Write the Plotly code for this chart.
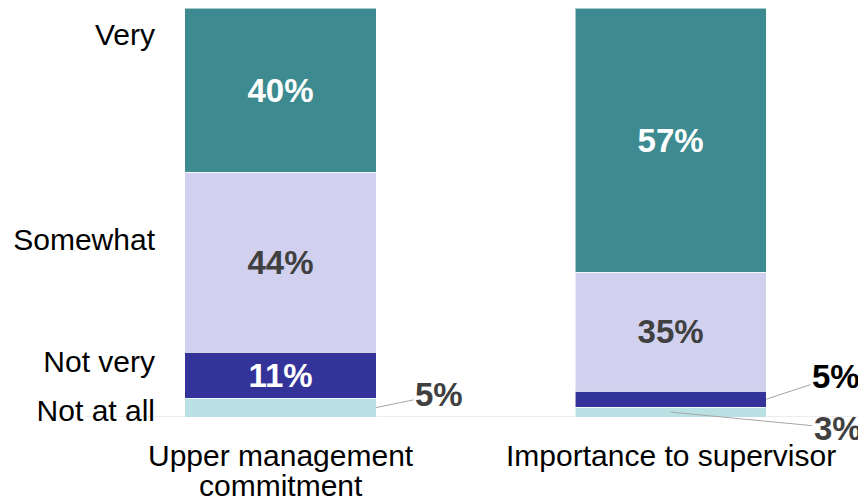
import plotly.graph_objects as go

categories = ["Upper management<br>commitment", "Importance to supervisor"]
levels = ["Not at all", "Not very", "Somewhat", "Very"]
# segment heights as drawn (percent of bar)
upper_values = [4.6, 11.2, 44.0, 40.2]
supervisor_values = [2.4, 3.9, 29.1, 64.6]
# printed labels
upper_labels = ["5%", "11%", "44%", "40%"]
supervisor_labels = ["3%", "5%", "35%", "57%"]
level_tick_positions = [1.5, 13.5, 43.3, 93.4]

colors = ["#B9E1E3", "#333399", "#D1D1EF", "#3D8B90"]
inside_text_colors = ["#404040", "#FFFFFF", "#404040", "#FFFFFF"]
bar_width = 0.49
# which segments get inside labels (others get callouts)
inside = [[False, True, True, True], [False, False, True, True]]

FONT = "Liberation Sans, Arial, sans-serif"

fig = go.Figure()
series = [upper_values, supervisor_values]
labels = [upper_labels, supervisor_labels]
for li, lvl in enumerate(levels):
    vals = [series[c][li] for c in range(len(categories))]
    texts = [labels[c][li] if inside[c][li] else "" for c in range(len(categories))]
    fig.add_trace(go.Bar(
        name=lvl, x=categories, y=vals, width=bar_width,
        marker=dict(color=colors[li], line=dict(color="rgba(255,255,255,0.55)", width=1)),
        text=texts, textposition="inside", insidetextanchor="middle",
        constraintext="none",
        textfont=dict(family=FONT, size=33, color=inside_text_colors[li], weight="bold"),
        hoverinfo="skip",
    ))

# callout annotations for small segments
callouts = [
    # (category index, level index, ax, ay, color, anchor at edge?)
    (0, 0, 63, -13, "#404040", True),
    (1, 1, 70, -23, "#000000", True),
    (1, 0, 167, 16, "#404040", False),
]
for ci, li, ax, ay, col, edge in callouts:
    vals = series[ci]
    ymid = sum(vals[:li]) + vals[li] / 2
    fig.add_annotation(
        x=ci + (bar_width / 2 if edge else 0), y=ymid, xref="x", yref="y",
        text=labels[ci][li], showarrow=True, arrowhead=0, arrowwidth=1,
        arrowcolor="#A6A6A6", ax=ax, ay=ay, standoff=0,
        font=dict(family=FONT, size=33, color=col, weight="bold"),
    )

# category labels below the axis (line spacing tuned to the reference)
for ci, cat in enumerate(categories):
    for k, line in enumerate(cat.split("<br>")):
        fig.add_annotation(
            x=ci, y=0, xref="x", yref="paper", text=line, showarrow=False,
            yanchor="middle", xanchor="center", yshift=-38 - 30 * k,
            font=dict(family=FONT, size=30, color="#000000"),
        )

# baseline axis line
fig.add_shape(type="line", xref="paper", yref="y", x0=-0.106, x1=1, y0=0, y1=0,
              line=dict(color="#D9D9D9", width=1), layer="below")

fig.update_layout(
    width=858, height=494, barmode="stack", showlegend=False,
    margin=dict(l=152, r=0, t=0, b=85),
    paper_bgcolor="white", plot_bgcolor="white",
    font=dict(family=FONT, size=30, color="#000000"),
    xaxis=dict(type="category", range=[-0.309, 1.501], showgrid=False, showline=False,
               zeroline=False, ticks="", showticklabels=False),
    yaxis=dict(range=[0, 100], showgrid=False, showline=False, zeroline=False,
               tickmode="array", tickvals=level_tick_positions, ticktext=levels,
               ticks="", ticklabelstandoff=4, tickfont=dict(size=30, color="#000000")),
)

fig.write_html("out.html")
